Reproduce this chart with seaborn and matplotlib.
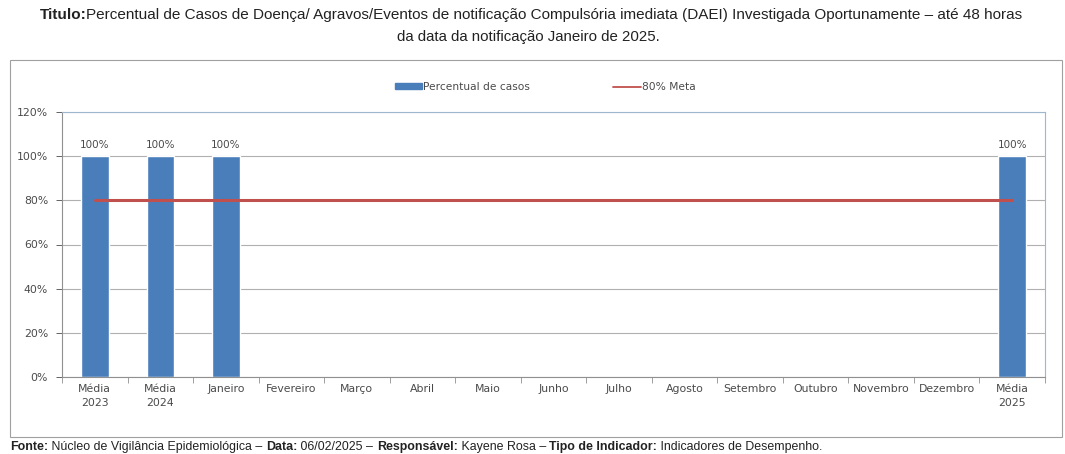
import matplotlib
matplotlib.use("Agg")
import matplotlib.pyplot as plt
import seaborn as sns
import numpy as np
import pandas as pd
from matplotlib.offsetbox import TextArea, HPacker, AnchoredOffsetbox
from matplotlib.patches import Rectangle
from matplotlib.lines import Line2D
from matplotlib.ticker import FuncFormatter, FixedLocator

categorias = ["Média\n2023", "Média\n2024", "Janeiro", "Fevereiro", "Março", "Abril", "Maio",
              "Junho", "Julho", "Agosto", "Setembro", "Outubro", "Novembro", "Dezembro", "Média\n2025"]
percentual = [100, 100, 100, np.nan, np.nan, np.nan, np.nan, np.nan, np.nan, np.nan,
              np.nan, np.nan, np.nan, np.nan, 100]
meta = [80] * len(categorias)

cor_barra = "#4a7ebb"
cor_meta = "#c0504d"
cor_txt = "#4a4a4a"
fonte_graf = "DejaVu Sans"
fonte_txt = "Liberation Sans"

sns.set_theme(style="white")
plt.rcParams["font.family"] = [fonte_graf]

fig = plt.figure(figsize=(10.65, 4.54), dpi=100)
ax = fig.add_axes([62 / 1065, 1 - 377 / 454, (1045 - 62) / 1065, (377 - 112) / 454])

df = pd.DataFrame({"cat": categorias, "val": percentual})
sns.barplot(data=df, x="cat", y="val", color=cor_barra, width=0.42, saturation=1, ax=ax)
ax.plot(range(len(categorias)), meta, color=cor_meta, lw=2.2)

for i, v in enumerate(percentual):
    if not np.isnan(v):
        ax.text(i, v + 3, f"{v:.0f}%", ha="center", va="bottom", fontsize=7.5, color=cor_txt)

ax.set_ylim(0, 120)
ax.set_xlim(-0.5, len(categorias) - 0.5)
ax.set_yticks(range(0, 121, 20))
ax.yaxis.set_major_formatter(FuncFormatter(lambda y, p: f"{y:.0f}%"))
ax.grid(axis="y", color="#b0b0b0", lw=0.8)
ax.set_axisbelow(True)
ax.set_xlabel("")
ax.set_ylabel("")
ax.tick_params(axis="y", labelsize=7.8, colors=cor_txt, length=4, width=0.6, direction="out", left=True, pad=6)
ax.tick_params(axis="x", labelsize=7.8, colors=cor_txt, length=0, pad=5)
ax.xaxis.set_minor_locator(FixedLocator(np.arange(-0.5, len(categorias), 1)))
ax.tick_params(axis="x", which="minor", length=4, width=0.6, color="#909090", bottom=True, direction="out")
for lab in ax.get_xticklabels():
    lab.set_linespacing(1.5)
for s in ["top", "right"]:
    ax.spines[s].set_color("#9fb6cf")
    ax.spines[s].set_linewidth(0.8)
for s in ["left", "bottom"]:
    ax.spines[s].set_color("#909090")
    ax.spines[s].set_linewidth(0.8)

# legenda
handles = [Rectangle((0, 0), 1, 1, color=cor_barra), Line2D([], [], color=cor_meta, lw=1.3)]
fig.legend(handles, ["Percentual de casos", "80% Meta"], loc="center", bbox_to_anchor=(545 / 1065, 1 - 87 / 454),
           ncol=2, frameon=False, fontsize=7.7, columnspacing=7.8, handlelength=2.6, handleheight=0.5,
           handletextpad=0.05, labelcolor=cor_txt)

# moldura do grafico
fig.patches.append(Rectangle((10 / 1065, 1 - 437 / 454), 1052 / 1065, 377 / 454, transform=fig.transFigure,
                             fill=False, edgecolor="#a0a0a0", lw=0.8))


def linha_mista(partes, x, y, tam, loc="center"):
    caixas = [TextArea(t, textprops=dict(fontsize=tam, fontweight=w, family=fonte_txt, color="#222222"))
              for t, w in partes]
    pack = HPacker(children=caixas, align="baseline", pad=0, sep=0)
    ab = AnchoredOffsetbox(loc=loc, child=pack, frameon=False, pad=0, borderpad=0,
                           bbox_to_anchor=(x, y), bbox_transform=fig.transFigure)
    fig.add_artist(ab)


# titulo
linha_mista([("Titulo:", "bold"),
             ("Percentual de Casos de Doença/ Agravos/Eventos de notificação Compulsória imediata (DAEI) "
              "Investigada Oportunamente – até 48 horas", "normal")],
            531 / 1065, 1 - 15 / 454, 11.0)
fig.text(528 / 1065, 1 - 37 / 454, "da data da notificação Janeiro de 2025.", ha="center", va="center",
         fontsize=10.8, family=fonte_txt, color="#222222")

# rodape
linha_mista([("Fonte:", "bold"), (" Núcleo de Vigilância Epidemiológica – ", "normal"),
             ("Data:", "bold"), (" 06/02/2025 – ", "normal"),
             ("Responsável:", "bold"), (" Kayene Rosa – ", "normal"),
             ("Tipo de Indicador:", "bold"), (" Indicadores de Desempenho.", "normal")],
            10 / 1065, 1 - 447 / 454, 8.9, loc="center left")

fig.savefig("out.png", dpi=100)
